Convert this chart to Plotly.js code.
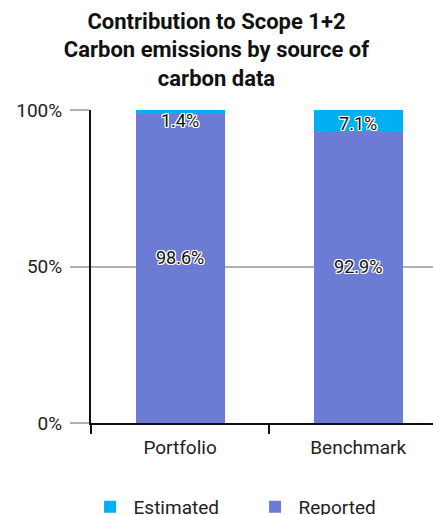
<!DOCTYPE html>
<html>
<head>
<meta charset="utf-8">
<script src="https://cdn.plot.ly/plotly-3.0.1.min.js"></script>
<style>html,body{margin:0;padding:0;background:#fff;}#chart{width:433px;height:515px;}</style>
</head>
<body>
<div id="chart"></div>
<script>
const categories = ["Portfolio", "Benchmark"];
const reported = [98.6, 92.9];
const estimated = [1.4, 7.1];
const seriesNames = ["Reported", "Estimated"];
const yTickVals = [0, 50, 100];
const yTickText = ["0%", "50%", "100%"];

const fmt = v => v.toFixed(1) + "%";
const halo = "-1px -1px 0 #fff, 1px -1px 0 #fff, -1px 1px 0 #fff, 1px 1px 0 #fff, 0 1px 0 #fff, 0 -1px 0 #fff, 1px 0 0 #fff, -1px 0 0 #fff";
const labelFont = {family: "Roboto", size: 18, color: "#111", shadow: halo};

const traces = [
  {
    type: "bar", name: seriesNames[0], x: categories, y: reported,
    marker: {color: "#6c7bd3"}, width: 0.5,
    hoverinfo: "skip", legendrank: 2
  },
  {
    type: "bar", name: seriesNames[1], x: categories, y: estimated,
    marker: {color: "#00b0f0"}, width: 0.5,
    text: estimated.map(fmt), textposition: "inside", insidetextanchor: "end",
    constraintext: "none", textfont: labelFont, cliponaxis: false,
    hoverinfo: "skip", legendrank: 1
  },
  {
    type: "scatter", mode: "text", x: categories, y: reported.map(v => v / 2),
    text: reported.map(fmt), textposition: "top center", textfont: labelFont,
    showlegend: false, hoverinfo: "skip"
  }
];

const layout = {
  width: 433, height: 515,
  margin: {l: 91, r: 0, t: 110, b: 92, autoexpand: false},
  paper_bgcolor: "#fff", plot_bgcolor: "#fff",
  font: {family: "Roboto", size: 19, color: "#222"},
  barmode: "stack",
  title: {
    text: "Contribution to Scope 1+2<br>Carbon emissions by source of<br>carbon data",
    font: {family: "Roboto", size: 22, weight: 700, color: "#111"},
    x: 0.5, xanchor: "center", y: 0.944, yanchor: "top"
  },
  xaxis: {
    type: "category", range: [-0.5, 1.42], fixedrange: true,
    showline: true, linecolor: "#111", linewidth: 2,
    ticks: "outside", tickson: "boundaries", ticklen: 9, tickwidth: 2, tickcolor: "#111",
    showgrid: false, ticklabelstandoff: 6,
    tickfont: {family: "Roboto", size: 19, color: "#222"}
  },
  yaxis: {
    range: [0, 100], fixedrange: true,
    tickvals: yTickVals, ticktext: yTickText,
    showline: true, linecolor: "#111", linewidth: 2,
    ticks: "outside", ticklen: 19, tickwidth: 2, tickcolor: "#b0b0b0",
    showgrid: true, gridcolor: "#b0b0b0", gridwidth: 2,
    zeroline: false, ticklabelstandoff: 4,
    tickfont: {family: "Roboto", size: 19, color: "#222"}
  },
  showlegend: true,
  legend: {
    orientation: "h", x: -0.013, xanchor: "left", y: -0.268, yanchor: "middle",
    traceorder: "normal", entrywidth: 113, entrywidthmode: "pixels", itemwidth: 37,
    font: {family: "Roboto", size: 19, color: "#222"}
  }
};

Plotly.newPlot("chart", traces, layout, {displayModeBar: false, staticPlot: true});
</script>
</body>
</html>
